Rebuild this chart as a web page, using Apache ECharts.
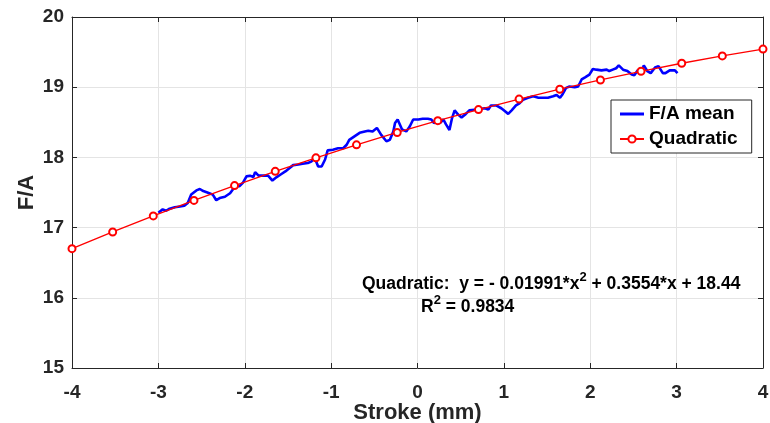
<!DOCTYPE html>
<html><head><meta charset="utf-8">
<script src="https://cdn.jsdelivr.net/npm/echarts@6/dist/echarts.min.js"></script>
<style>html,body{margin:0;padding:0;background:#fff}#c{width:770px;height:423px}</style>
</head><body><div id="c"></div>
<script>
const strokeMean = [-3.00,-2.95,-2.91,-2.87,-2.81,-2.75,-2.70,-2.66,-2.62,-2.56,-2.52,-2.48,-2.46,-2.41,-2.37,-2.33,-2.29,-2.23,-2.17,-2.14,-2.10,-2.06,-2.02,-1.98,-1.94,-1.90,-1.88,-1.84,-1.79,-1.73,-1.68,-1.63,
  -1.58,-1.53,-1.48,-1.44,-1.38,-1.33,-1.27,-1.23,-1.19,-1.15,-1.11,-1.07,-1.04,-0.98,-0.92,-0.86,-0.82,-0.79,-0.73,-0.67,-0.61,-0.57,-0.52,-0.47,-0.42,-0.36,-0.32,-0.28,-0.26,-0.23,-0.18,-0.13,
  -0.09,-0.05,0.01,0.06,0.12,0.16,0.19,0.22,0.26,0.30,0.33,0.37,0.40,0.43,0.47,0.51,0.56,0.60,0.66,0.72,0.78,0.82,0.85,0.91,0.97,1.01,1.05,1.09,1.14,1.18,1.22,1.28,
  1.34,1.40,1.45,1.51,1.57,1.61,1.65,1.68,1.72,1.76,1.82,1.86,1.90,1.94,1.99,2.03,2.07,2.13,2.19,2.22,2.26,2.30,2.33,2.38,2.43,2.48,2.51,2.55,2.59,2.62,2.66,2.70,2.75,2.79,2.84,2.87,2.92,2.98,3.01];
const faMean = [17.21,17.26,17.24,17.27,17.29,17.30,17.31,17.35,17.47,17.53,17.55,17.52,17.54,17.49,17.47,17.39,17.42,17.44,17.49,17.54,17.59,17.59,17.64,17.73,17.74,17.72,17.79,17.74,17.74,17.74,17.67,17.72,
  17.76,17.80,17.85,17.89,17.90,17.91,17.92,17.94,17.99,17.87,17.87,17.97,18.10,18.11,18.13,18.13,18.18,18.25,18.30,18.35,18.37,18.38,18.37,18.42,18.32,18.23,18.25,18.37,18.49,18.54,18.40,18.37,
  18.44,18.54,18.54,18.55,18.55,18.54,18.49,18.51,18.49,18.54,18.47,18.39,18.56,18.67,18.61,18.57,18.62,18.67,18.68,18.69,18.70,18.68,18.74,18.74,18.70,18.66,18.62,18.67,18.74,18.77,18.82,18.85,
  18.87,18.85,18.85,18.85,18.87,18.89,18.85,18.90,18.99,19.01,19.00,19.01,19.11,19.14,19.18,19.26,19.25,19.24,19.25,19.23,19.25,19.27,19.31,19.25,19.23,19.18,19.17,19.24,19.20,19.31,19.23,19.20,19.28,19.30,19.20,19.20,19.24,19.24,19.20];

// Quadratic fit markers
const strokeFit = [-4.000,-3.529,-3.059,-2.588,-2.118,-1.647,-1.176,-0.706,-0.235,0.235,0.706,1.176,1.647,2.118,2.588,3.059,3.529,4.000];
const faFit = [16.700,16.938,17.167,17.387,17.598,17.801,17.994,18.179,18.355,18.523,18.681,18.831,18.971,19.103,19.227,19.341,19.446,19.543];

const seriesNames = ['F/A mean', 'Quadratic'];
const xAxisName = 'Stroke (mm)';
const yAxisName = 'F/A';
const xMin = -4, xMax = 4, xStep = 1;
const yMin = 15, yMax = 20, yStep = 1;
const fitEquation = ['Quadratic:  y = - 0.01991*x', '2', ' + 0.3554*x + 18.44'];
const fitR2 = ['R', '2', ' = 0.9834'];

const FONT = '"Liberation Sans", Arial, Helvetica, sans-serif';
const AX = '#262626';
const GRID = '#e4e4e4';

const chart = echarts.init(document.getElementById('c'), null, {renderer: 'canvas'});

const baseX = {type: 'value', min: xMin, max: xMax, interval: xStep};
const baseY = {type: 'value', min: yMin, max: yMax, interval: yStep};

chart.setOption({
  animation: false,
  backgroundColor: '#ffffff',
  grid: {left: 72, top: 17, right: 7, bottom: 55, containLabel: false, outerBoundsMode: 'none'},
  xAxis: [
    Object.assign({}, baseX, {
      position: 'bottom',
      name: xAxisName, nameLocation: 'middle', nameGap: 34, nameMoveOverlap: false,
      nameTextStyle: {fontFamily: FONT, fontSize: 22, fontWeight: 'bold', color: AX},
      axisLine: {show: true, onZero: false, lineStyle: {color: AX, width: 1}},
      axisTick: {show: true, inside: true, length: 5, lineStyle: {color: AX}},
      axisLabel: {fontFamily: FONT, fontSize: 19, fontWeight: 'bold', color: AX, margin: 15},
      splitLine: {show: true, lineStyle: {color: GRID, width: 1}}
    }),
    Object.assign({}, baseX, {
      position: 'top',
      axisLine: {show: true, onZero: false, lineStyle: {color: AX, width: 1}},
      axisTick: {show: true, inside: true, length: 5, lineStyle: {color: AX}},
      axisLabel: {show: false},
      splitLine: {show: false}
    })
  ],
  yAxis: [
    Object.assign({}, baseY, {
      position: 'left',
      name: yAxisName, nameLocation: 'middle', nameGap: 34, nameRotate: 90, nameMoveOverlap: false,
      nameTextStyle: {fontFamily: FONT, fontSize: 22, fontWeight: 'bold', color: AX},
      axisLine: {show: true, onZero: false, lineStyle: {color: AX, width: 1}},
      axisTick: {show: true, inside: true, length: 5, lineStyle: {color: AX}},
      axisLabel: {fontFamily: FONT, fontSize: 19, fontWeight: 'bold', color: AX, margin: 8},
      splitLine: {show: true, lineStyle: {color: GRID, width: 1}}
    }),
    Object.assign({}, baseY, {
      position: 'right',
      axisLine: {show: true, onZero: false, lineStyle: {color: AX, width: 1}},
      axisTick: {show: true, inside: true, length: 5, lineStyle: {color: AX}},
      axisLabel: {show: false},
      splitLine: {show: false}
    })
  ],
  legend: {
    orient: 'vertical', left: 611, top: 100,
    padding: [4, 14, 4, 8], itemGap: 5, itemWidth: 24, itemHeight: 9,
    backgroundColor: '#ffffff', borderColor: AX, borderWidth: 1, borderRadius: 0,
    textStyle: {fontFamily: FONT, fontSize: 19, fontWeight: 'bold', color: '#000', lineHeight: 20},
    data: [
      {name: seriesNames[0], icon: 'path://M0,0 L24,0 L24,3 L0,3 Z', itemStyle: {color: '#0000ff'}},
      {name: seriesNames[1]}
    ]
  },
  series: [
    {
      name: seriesNames[0], type: 'line', xAxisIndex: 0, yAxisIndex: 0,
      data: strokeMean.map((x, i) => [x, faMean[i]]),
      showSymbol: false, symbol: 'none', smooth: false, z: 2,
      lineStyle: {color: '#0000ff', width: 2.6},
      itemStyle: {color: '#0000ff'}
    },
    {
      name: seriesNames[1], type: 'line', xAxisIndex: 0, yAxisIndex: 0,
      data: strokeFit.map((x, i) => [x, faFit[i]]),
      symbol: 'emptyCircle', symbolSize: 7, showSymbol: true, z: 3,
      lineStyle: {color: '#ff0000', width: 1.3},
      itemStyle: {color: '#ff0000', borderColor: '#ff0000', borderWidth: 1}
    }
  ],
  graphic: [
    {
      type: 'text', left: 362, top: 271, z: 10,
      style: {
        text: '{a|' + fitEquation[0] + '}{s|' + fitEquation[1] + '}{a|' + fitEquation[2] + '}',
        rich: {
          a: {fontFamily: FONT, fontSize: 17.5, fontWeight: 'bold', fill: '#000', lineHeight: 22, verticalAlign: 'bottom'},
          s: {fontFamily: FONT, fontSize: 13, fontWeight: 'bold', fill: '#000', lineHeight: 10, verticalAlign: 'top'}
        }
      }
    },
    {
      type: 'text', left: 421, top: 294, z: 10,
      style: {
        text: '{a|' + fitR2[0] + '}{s|' + fitR2[1] + '}{a|' + fitR2[2] + '}',
        rich: {
          a: {fontFamily: FONT, fontSize: 17.5, fontWeight: 'bold', fill: '#000', lineHeight: 22, verticalAlign: 'bottom'},
          s: {fontFamily: FONT, fontSize: 13, fontWeight: 'bold', fill: '#000', lineHeight: 10, verticalAlign: 'top'}
        }
      }
    }
  ]
});
</script>
</body></html>
